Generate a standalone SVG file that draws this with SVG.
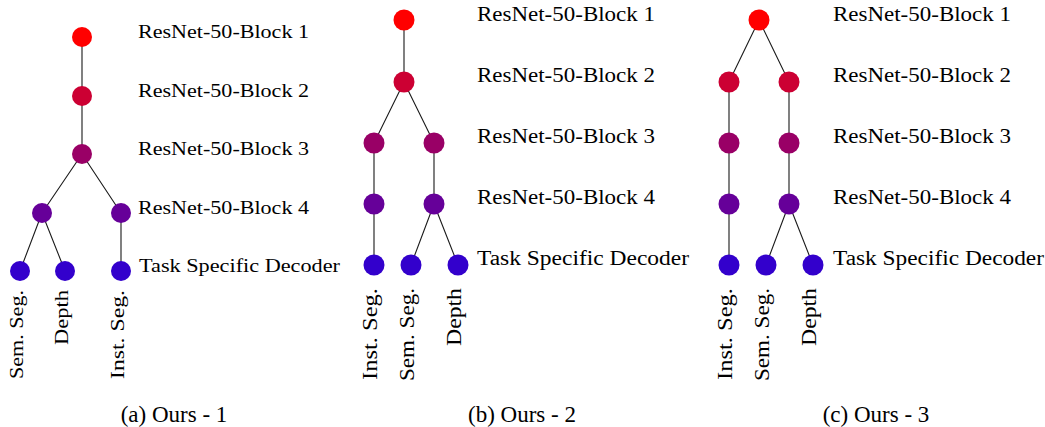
<svg xmlns="http://www.w3.org/2000/svg" width="1045" height="427" viewBox="0 0 1045 427">
<style>
.e{stroke:#1a1a1a;stroke-width:1.1;fill:none}
.b1{fill:#ff0000}.b2{fill:#cc0033}.b3{fill:#990066}.b4{fill:#660099}.d{fill:#3300cc}
text{font-family:"Liberation Serif","Times New Roman",serif;fill:#000}
.la{font-size:19.5px}.lb{font-size:20.5px}.cap{font-size:23px;text-anchor:middle}
.r{text-anchor:end}
</style>
<rect width="1045" height="427" fill="#fff"/>
<g id="connectors">
<path class="e" d="M82 37V154M82 154L42 213M82 154L121 213M42 213L20 271M42 213L65 271M121 213V271"/>
<path class="e" d="M404 20V82M404 82L374 143M404 82L434 143M374 143V265M434 143V204M434 204L411 265M434 204L458 265"/>
<path class="e" d="M759 20L729 82M759 20L789 82M729 82V265M789 82V204M789 204L766 265M789 204L813 265"/>
</g>
<g id="panel-a">
<g id="a-b1"><circle class="b1" cx="82" cy="37" r="10"/></g>
<g id="a-b2"><circle class="b2" cx="82" cy="96" r="10"/></g>
<g id="a-b3"><circle class="b3" cx="82" cy="154" r="10"/></g>
<g id="a-b4l"><circle class="b4" cx="42" cy="213" r="10"/></g>
<g id="a-b4r"><circle class="b4" cx="121" cy="213" r="10"/></g>
<g id="a-d1"><circle class="d" cx="20" cy="271" r="10"/><text class="la r" transform="translate(23,290) rotate(-90)" textLength="89" lengthAdjust="spacingAndGlyphs">Sem. Seg.</text></g>
<g id="a-d2"><circle class="d" cx="65" cy="271" r="10"/><text class="la r" transform="translate(68,290) rotate(-90)" textLength="55" lengthAdjust="spacingAndGlyphs">Depth</text></g>
<g id="a-d3"><circle class="d" cx="121" cy="271" r="10"/><text class="la r" transform="translate(124,290) rotate(-90)" textLength="89" lengthAdjust="spacingAndGlyphs">Inst. Seg.</text></g>
<text class="la" x="138" y="38" textLength="171" lengthAdjust="spacingAndGlyphs">ResNet-50-Block 1</text>
<text class="la" x="138" y="97" textLength="171" lengthAdjust="spacingAndGlyphs">ResNet-50-Block 2</text>
<text class="la" x="138" y="155" textLength="171" lengthAdjust="spacingAndGlyphs">ResNet-50-Block 3</text>
<text class="la" x="138" y="214" textLength="171" lengthAdjust="spacingAndGlyphs">ResNet-50-Block 4</text>
<text class="la" x="139" y="272" textLength="201" lengthAdjust="spacingAndGlyphs">Task Specific Decoder</text>
<text class="cap" x="174" y="422">(a) Ours - 1</text>
</g>
<g id="panel-b">
<g id="b-b1"><circle class="b1" cx="404" cy="20" r="10.5"/></g>
<g id="b-b2"><circle class="b2" cx="404" cy="82" r="10.5"/></g>
<g id="b-b3l"><circle class="b3" cx="374" cy="143" r="10.5"/></g>
<g id="b-b3r"><circle class="b3" cx="434" cy="143" r="10.5"/></g>
<g id="b-b4l"><circle class="b4" cx="374" cy="204" r="10.5"/></g>
<g id="b-b4r"><circle class="b4" cx="434" cy="204" r="10.5"/></g>
<g id="b-d1"><circle class="d" cx="374" cy="265" r="10.5"/><text class="lb r" transform="translate(377,288) rotate(-90)" textLength="92" lengthAdjust="spacingAndGlyphs">Inst. Seg.</text></g>
<g id="b-d2"><circle class="d" cx="411" cy="265" r="10.5"/><text class="lb r" transform="translate(414,288) rotate(-90)" textLength="93" lengthAdjust="spacingAndGlyphs">Sem. Seg.</text></g>
<g id="b-d3"><circle class="d" cx="458" cy="265" r="10.5"/><text class="lb r" transform="translate(461,288) rotate(-90)" textLength="58" lengthAdjust="spacingAndGlyphs">Depth</text></g>
<text class="lb" x="477" y="21" textLength="178" lengthAdjust="spacingAndGlyphs">ResNet-50-Block 1</text>
<text class="lb" x="477" y="82" textLength="178" lengthAdjust="spacingAndGlyphs">ResNet-50-Block 2</text>
<text class="lb" x="477" y="143" textLength="178" lengthAdjust="spacingAndGlyphs">ResNet-50-Block 3</text>
<text class="lb" x="477" y="204" textLength="178" lengthAdjust="spacingAndGlyphs">ResNet-50-Block 4</text>
<text class="lb" x="477" y="265" textLength="212" lengthAdjust="spacingAndGlyphs">Task Specific Decoder</text>
<text class="cap" x="522" y="422">(b) Ours - 2</text>
</g>
<g id="panel-c">
<g id="c-b1"><circle class="b1" cx="759" cy="20" r="10.5"/></g>
<g id="c-b2l"><circle class="b2" cx="729" cy="82" r="10.5"/></g>
<g id="c-b2r"><circle class="b2" cx="789" cy="82" r="10.5"/></g>
<g id="c-b3l"><circle class="b3" cx="729" cy="143" r="10.5"/></g>
<g id="c-b3r"><circle class="b3" cx="789" cy="143" r="10.5"/></g>
<g id="c-b4l"><circle class="b4" cx="729" cy="204" r="10.5"/></g>
<g id="c-b4r"><circle class="b4" cx="789" cy="204" r="10.5"/></g>
<g id="c-d1"><circle class="d" cx="729" cy="265" r="10.5"/><text class="lb r" transform="translate(732,288) rotate(-90)" textLength="92" lengthAdjust="spacingAndGlyphs">Inst. Seg.</text></g>
<g id="c-d2"><circle class="d" cx="766" cy="265" r="10.5"/><text class="lb r" transform="translate(769,288) rotate(-90)" textLength="93" lengthAdjust="spacingAndGlyphs">Sem. Seg.</text></g>
<g id="c-d3"><circle class="d" cx="813" cy="265" r="10.5"/><text class="lb r" transform="translate(816,288) rotate(-90)" textLength="58" lengthAdjust="spacingAndGlyphs">Depth</text></g>
<text class="lb" x="833" y="21" textLength="178" lengthAdjust="spacingAndGlyphs">ResNet-50-Block 1</text>
<text class="lb" x="833" y="82" textLength="178" lengthAdjust="spacingAndGlyphs">ResNet-50-Block 2</text>
<text class="lb" x="833" y="143" textLength="178" lengthAdjust="spacingAndGlyphs">ResNet-50-Block 3</text>
<text class="lb" x="833" y="204" textLength="178" lengthAdjust="spacingAndGlyphs">ResNet-50-Block 4</text>
<text class="lb" x="833" y="265" textLength="211" lengthAdjust="spacingAndGlyphs">Task Specific Decoder</text>
<text class="cap" x="876" y="422">(c) Ours - 3</text>
</g>
</svg>
